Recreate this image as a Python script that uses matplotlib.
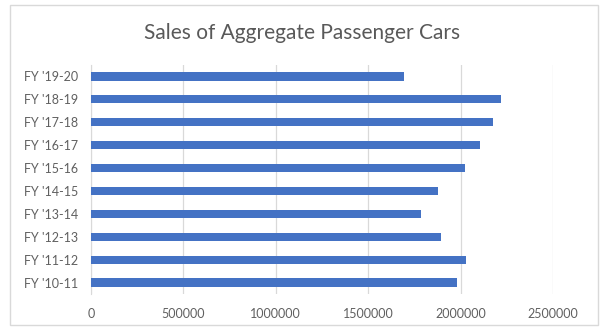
import matplotlib
matplotlib.use("Agg")
import matplotlib.pyplot as plt
from matplotlib.patches import Rectangle

categories = ["FY '10-11", "FY '11-12", "FY '12-13", "FY '13-14", "FY '14-15",
              "FY '15-16", "FY '16-17", "FY '17-18", "FY '18-19", "FY '19-20"]
sales = [1982990, 2030490, 1896326, 1786899, 1877706,
         2025097, 2103718, 2173950, 2218549, 1695000]
xticks = [0, 500000, 1000000, 1500000, 2000000, 2500000]
title = "Sales of Aggregate Passenger Cars"

plt.rcParams['font.family'] = ['Lato', 'DejaVu Sans']
fig = plt.figure(figsize=(6.04, 3.32), dpi=100)
fig.patches.append(Rectangle((10/604, 1-325/332), 588/604, 320/332, transform=fig.transFigure,
                             fill=False, edgecolor='#d9d9d9', linewidth=1))
ax = fig.add_axes([91/604, 1-294/332, 462/604, 229/332])
ax.barh(range(len(categories)), sales, height=0.36, color='#4472C4', zorder=3)
ax.set_yticks(range(len(categories)))
ax.set_yticklabels(categories)
ax.set_ylim(-0.5, len(categories)-0.5)
ax.set_xlim(0, 2500000)
ax.set_xticks(xticks)
ax.set_xticklabels([str(v) for v in xticks])
ax.grid(axis='x', color='#d9d9d9', linewidth=0.9, zorder=0)
for s in ['top', 'right', 'bottom']:
    ax.spines[s].set_visible(False)
ax.spines['left'].set_color('#d9d9d9')
ax.tick_params(axis='both', length=0, colors='#606060', labelsize=9)
ax.tick_params(axis='y', pad=9)
ax.tick_params(axis='x', pad=10)
fig.text(0.5, 1-33/332, title, ha='center', va='center', fontsize=15, color='#595959')
fig.savefig("out.png", dpi=100)
